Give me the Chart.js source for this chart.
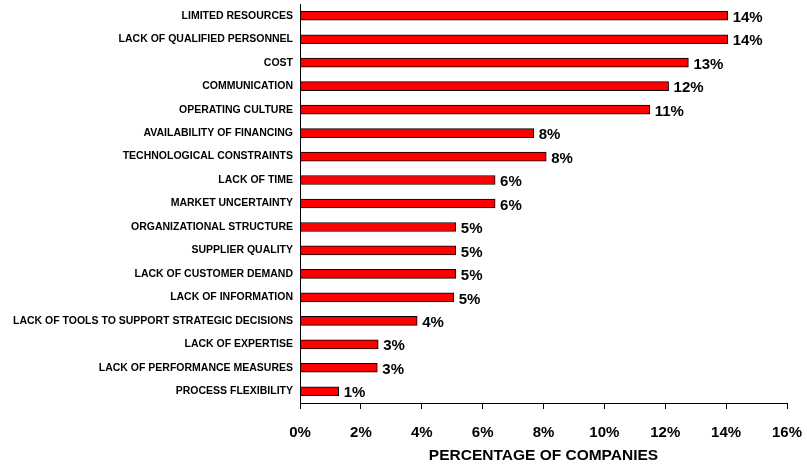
<!DOCTYPE html>
<html>
<head>
<meta charset="utf-8">
<script src="https://cdn.jsdelivr.net/npm/chart.js@4.4.1/dist/chart.umd.min.js"></script>
<style>
  html, body { margin: 0; padding: 0; background: #fff; }
  #wrap { width: 807px; height: 466px; }
</style>
</head>
<body>
<div id="wrap"><canvas id="barChart"></canvas></div>
<script>
// Obstacles, top to bottom
const categories = [
    'LIMITED RESOURCES',
    'LACK OF QUALIFIED PERSONNEL',
    'COST',
    'COMMUNICATION',
    'OPERATING CULTURE',
    'AVAILABILITY OF FINANCING',
    'TECHNOLOGICAL CONSTRAINTS',
    'LACK OF TIME',
    'MARKET UNCERTAINTY',
    'ORGANIZATIONAL STRUCTURE',
    'SUPPLIER QUALITY',
    'LACK OF CUSTOMER DEMAND',
    'LACK OF INFORMATION',
    'LACK OF TOOLS TO SUPPORT STRATEGIC DECISIONS',
    'LACK OF EXPERTISE',
    'LACK OF PERFORMANCE MEASURES',
    'PROCESS FLEXIBILITY'
];

// Percentage of companies
const percentages = [14.05, 14.05, 12.76, 12.11, 11.49, 7.68, 8.09, 6.41, 6.41, 5.12, 5.12, 5.12, 5.05, 3.85, 2.57, 2.54, 1.27];

// X axis ticks
const xTicks = [0, 2, 4, 6, 8, 10, 12, 14, 16];

const FONT = "'Liberation Sans', Arial, sans-serif";

// Draw rounded value next to each bar
const valueLabels = {
    id: 'valueLabels',
    afterDatasetsDraw(chart) {
        const ctx = chart.ctx;
        const meta = chart.getDatasetMeta(0);
        ctx.save();
        ctx.font = 'bold 15px ' + FONT;
        ctx.fillStyle = '#000';
        ctx.textAlign = 'left';
        ctx.textBaseline = 'middle';
        meta.data.forEach(function(bar, i) {
            ctx.fillText(Math.round(percentages[i]) + '%', bar.x + 5, bar.y + 2);
        });
        ctx.restore();
    }
};

// Let the layout padding alone decide the plot edges
function noScalePadding(axis) {
    axis.paddingTop = 0;
    axis.paddingBottom = 0;
    axis.paddingLeft = 0;
    axis.paddingRight = 0;
}

const ctx = document.getElementById('barChart').getContext('2d');
new Chart(ctx, {
    type: 'bar',
    data: {
        labels: categories,
        datasets: [{
            data: percentages,
            backgroundColor: '#ff0000',
            borderColor: '#000',
            borderWidth: 1,
            borderSkipped: false,
            barThickness: 9
        }]
    },
    options: {
        indexAxis: 'y',
        responsive: true,
        maintainAspectRatio: false,
        animation: false,
        layout: {
            autoPadding: false,
            padding: { left: 0, right: 20, top: 4, bottom: 0 }
        },
        plugins: {
            legend: { display: false },
            tooltip: { enabled: false }
        },
        scales: {
            x: {
                min: 0,
                max: 16,
                afterBuildTicks: function(axis) {
                    axis.ticks = xTicks.map(v => ({ value: v }));
                },
                afterFit: function(axis) {
                    axis.height = 63;
                    noScalePadding(axis);
                },
                grid: {
                    display: true,
                    drawOnChartArea: false,
                    drawTicks: true,
                    tickLength: 6,
                    color: '#000'
                },
                border: { display: true, color: '#000', width: 1 },
                ticks: {
                    padding: 15,
                    color: '#000',
                    font: { family: FONT, size: 15, weight: 'bold' },
                    callback: v => v + '%'
                },
                title: {
                    display: true,
                    text: 'PERCENTAGE OF COMPANIES',
                    color: '#000',
                    font: { family: FONT, size: 15.5, weight: 'bold' },
                    padding: { top: 0, bottom: 1 }
                }
            },
            y: {
                afterFit: function(axis) {
                    axis.width = 300;
                    noScalePadding(axis);
                },
                grid: { display: false, drawTicks: false },
                border: { display: true, color: '#000', width: 1 },
                ticks: {
                    padding: 7,
                    color: '#000',
                    autoSkip: false,
                    font: { family: FONT, size: 10.5, weight: 'bold' }
                }
            }
        }
    },
    plugins: [valueLabels]
});
</script>
</body>
</html>
